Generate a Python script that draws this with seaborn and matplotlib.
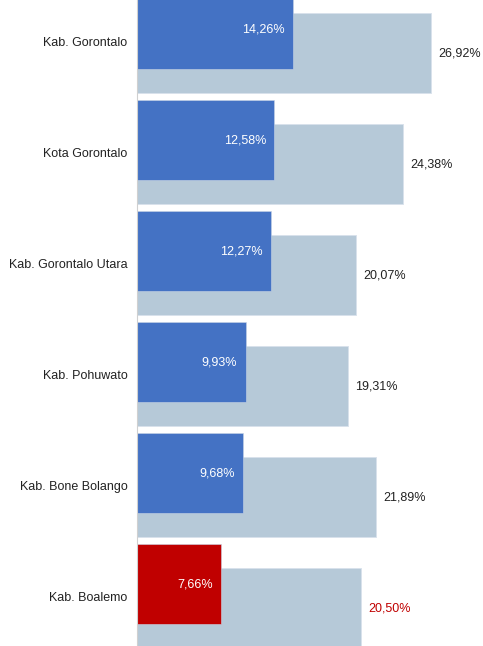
import numpy as np
import pandas as pd
import seaborn as sns
import matplotlib.pyplot as plt

# data
wilayah = ["Kab. Gorontalo", "Kota Gorontalo", "Kab. Gorontalo Utara",
           "Kab. Pohuwato", "Kab. Bone Bolango", "Kab. Boalemo"]
nilai_depan = [14.26, 12.58, 12.27, 9.93, 9.68, 7.66]
nilai_belakang = [26.92, 24.38, 20.07, 19.31, 21.89, 20.50]
warna_depan = ["#4472C4"] * 5 + ["#C00000"]
warna_label = ["#222222"] * 5 + ["#C00000"]

df = pd.DataFrame({"wilayah": wilayah, "depan": nilai_depan, "belakang": nilai_belakang})

sns.set_style("white")
plt.rcParams['font.family'] = ['Liberation Sans', 'DejaVu Sans']

fig = plt.figure(figsize=(4.83, 6.46), dpi=100)
ax = fig.add_axes([137 / 483, 0, 1 - 137 / 483, 1])

geser = 0.108

# bar belakang (abu-abu kebiruan)
sns.barplot(data=df, y="wilayah", x="belakang", color="#B6C9D8", width=0.72,
            edgecolor="#d8e1eb", linewidth=0.6, saturation=1, ax=ax)
n = len(ax.patches)
for p in ax.patches:
    p.set_y(p.get_y() + geser)

# bar depan
sns.barplot(data=df, y="wilayah", x="depan", hue="wilayah", palette=warna_depan,
            width=0.72, edgecolor="#c8d4e6", linewidth=0.4, saturation=1,
            legend=False, ax=ax)
for p in ax.patches[n:]:
    p.set_y(p.get_y() - geser)

for i in range(len(wilayah)):
    ax.text(nilai_depan[i] - 0.75, i - geser, f"{nilai_depan[i]:.2f}%".replace(".", ","),
            ha="right", va="center", color="white", fontsize=9)
    ax.text(nilai_belakang[i] + 0.65, i + geser, f"{nilai_belakang[i]:.2f}%".replace(".", ","),
            ha="left", va="center", color=warna_label[i], fontsize=9)

ax.set_xlim(0, 346 / 10.93)
ax.set_ylim(5.45, -0.37)
ax.set_xlabel("")
ax.set_ylabel("")
ax.set_xticks([])
ax.tick_params(axis="y", length=0, pad=7, labelsize=9, labelcolor="#222222")
for s in ["top", "right", "bottom"]:
    ax.spines[s].set_visible(False)
ax.spines["left"].set_color("#d0d0d0")
ax.spines["left"].set_linewidth(0.8)

fig.savefig("out.png", dpi=100)
